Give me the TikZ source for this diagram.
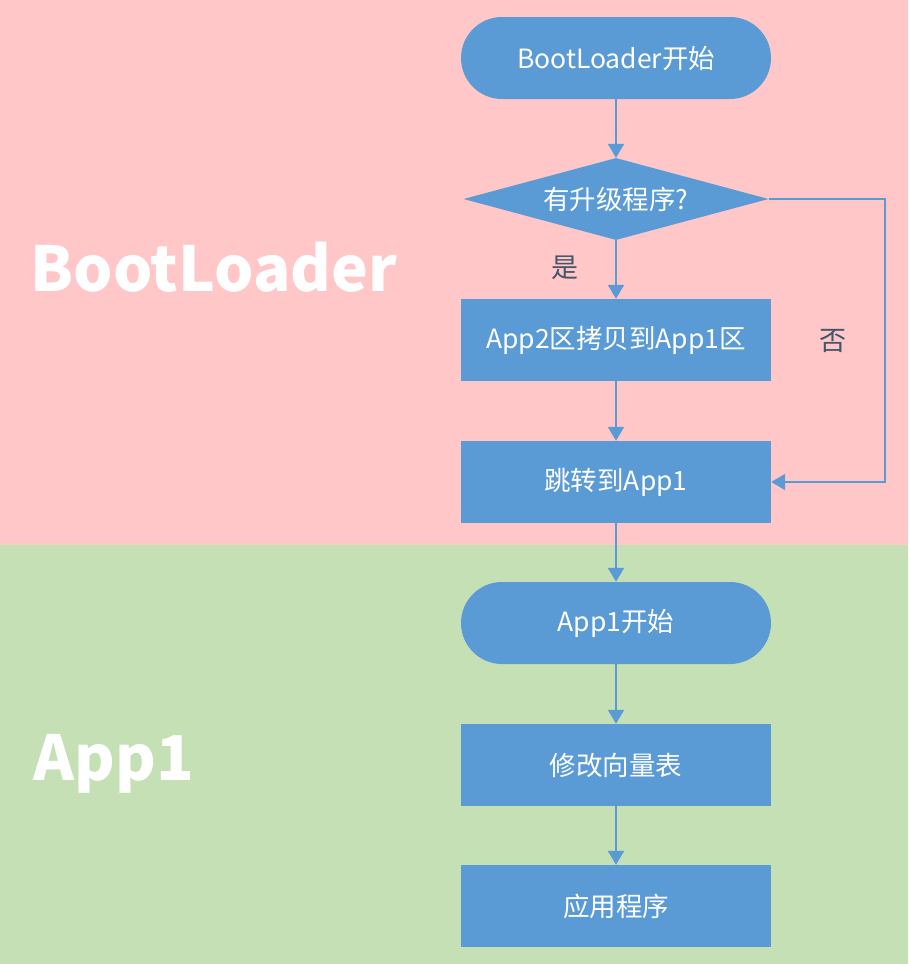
\documentclass[tikz,border=0pt]{standalone}
\usepackage{fontspec}
\setmainfont{Noto Sans CJK SC}
\usetikzlibrary{shapes.geometric,arrows.meta}
\definecolor{pinkbg}{RGB}{255,199,199}
\definecolor{greenbg}{RGB}{197,224,180}
\definecolor{boxblue}{RGB}{91,155,213}
\definecolor{lbl}{RGB}{68,84,106}
\begin{document}
\begin{tikzpicture}[x=1pt,y=-1pt,
  every node/.style={font=\fontsize{26.5}{30}\selectfont},
  proc/.style={draw=none,fill=boxblue,text=white,minimum width=310pt,minimum height=82pt,inner sep=0pt},
  term/.style={proc,rounded corners=41pt},
  dec/.style={diamond,fill=boxblue,text=white,aspect=3.72,minimum width=305pt,minimum height=82pt,inner sep=0pt},
  conn/.style={draw=boxblue,line width=2pt,-{Triangle[width=16pt,length=14pt]}},
  biglbl/.style={text=white,font=\fontsize{62}{70}\selectfont\bfseries,anchor=west},
  small/.style={text=lbl,font=\fontsize{27}{30}\selectfont}]
\fill[pinkbg] (0,0) rectangle (908,545);
\fill[greenbg] (0,545) rectangle (908,964);
\useasboundingbox (0,0) rectangle (908,964);
\node[biglbl] (bl) at (27,267) {BootLoader};
\node[biglbl] (ap) at (30,764) {App1};
\node[term] (s1) at (616,58) {BootLoader开始};
\node[dec] (d1) at (616,199) {有升级程序?};
\node[proc] (p1) at (616,340) {App2区拷贝到App1区};
\node[proc] (p2) at (616,482) {跳转到App1};
\node[term] (s2) at (616,623) {App1开始};
\node[proc] (p3) at (616,765) {修改向量表};
\node[proc] (p4) at (616,906) {应用程序};
\node[small] (yes) at (565,268) {是};
\node[small] (no) at (833,341) {否};
\coordinate (c1) at (885,199);
\coordinate (c2) at (885,482);
\draw[conn] (s1) -- (d1);
\draw[conn] (d1) -- (p1);
\draw[conn] (p1) -- (p2);
\draw[conn] (d1.east) -- (c1) -- (c2) -- (p2.east);
\draw[conn] (p2) -- (s2);
\draw[conn] (s2) -- (p3);
\draw[conn] (p3) -- (p4);
\end{tikzpicture}
\end{document}
